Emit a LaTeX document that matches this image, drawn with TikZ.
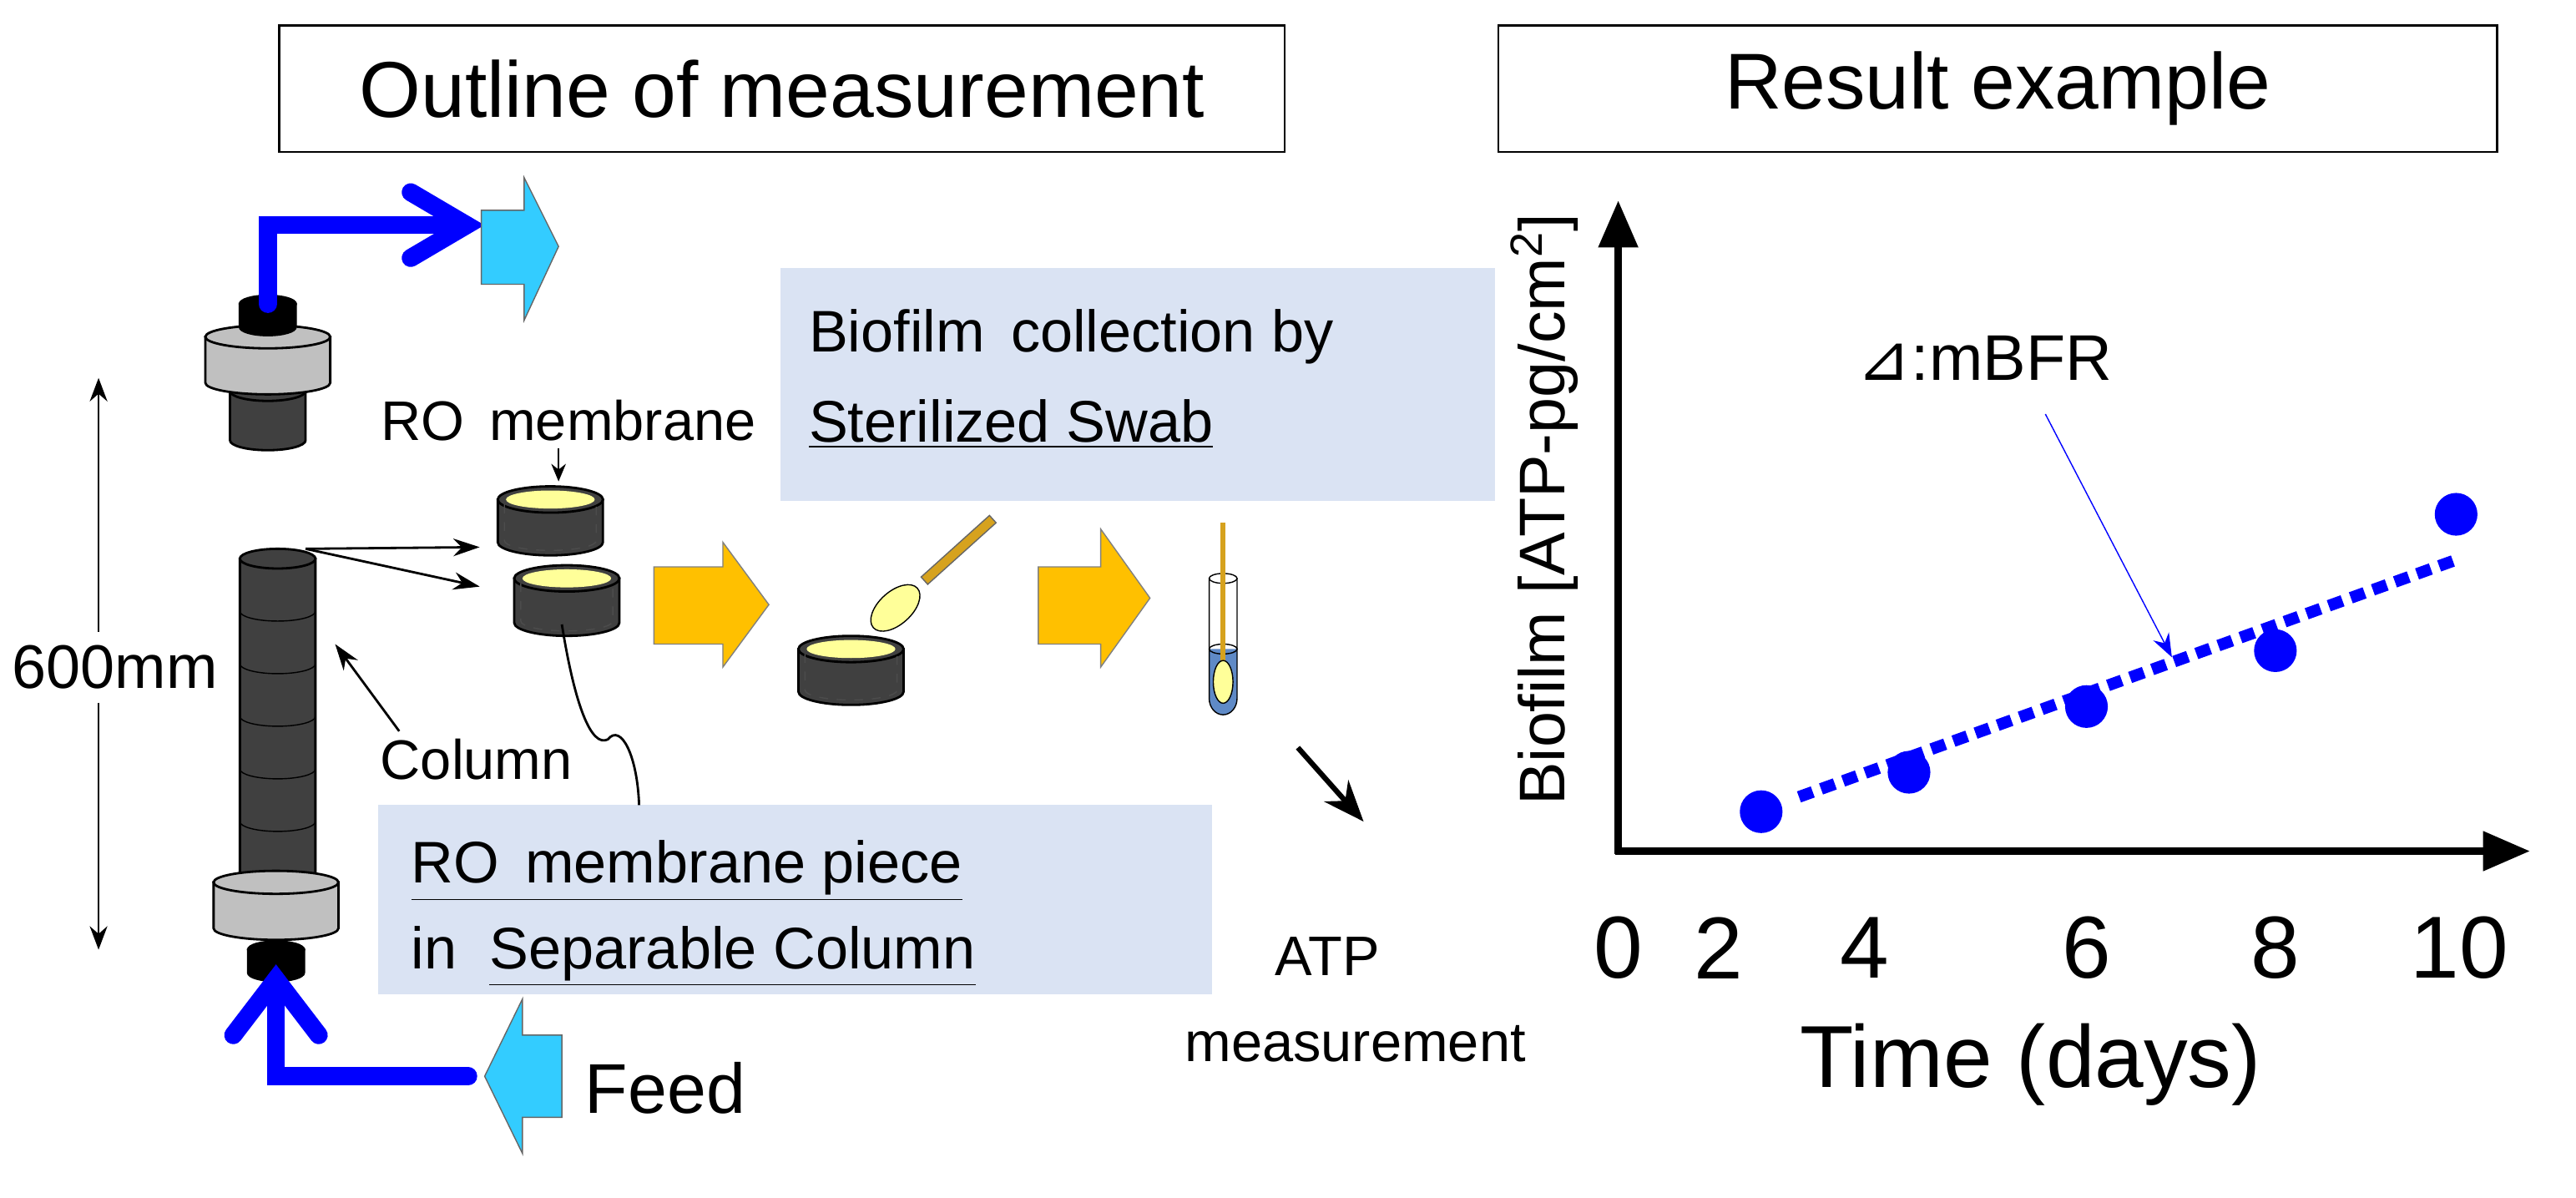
\documentclass[tikz,border=0pt]{standalone}
\usepackage{fontspec}
\setmainfont{Liberation Sans}
\newfontfamily\djv{DejaVu Sans}
\usetikzlibrary{arrows.meta}
\definecolor{cupdark}{HTML}{404040}
\definecolor{disc}{HTML}{C0C0C0}
\definecolor{cyanA}{HTML}{33CCFF}
\definecolor{orangeA}{HTML}{FFC000}
\definecolor{boxbg}{HTML}{DAE3F3}
\definecolor{memb}{HTML}{FFFF99}
\definecolor{pipe}{HTML}{0000FF}
\definecolor{liquid}{HTML}{5F8AC6}
\definecolor{stick}{HTML}{D6A21E}
\newcommand\mycyl[6]{%
 \filldraw[fill=#6,draw=black,thick] (#1-#3,#2) -- (#1-#3,#2+#5) arc[start angle=180,end angle=0,x radius=#3,y radius=#4] -- (#1+#3,#2) -- cycle;
 \filldraw[fill=#6,draw=black,thick] (#1,#2) ellipse[x radius=#3,y radius=#4];}
\newcommand\rocup[5]{%
 \mycyl{#1}{#2}{#3}{#4}{#5}{cupdark}
 \draw[black!70,dashed,thin] (#1-#3+4,#2+3) -- (#1-#3+4,#2+#5-1) arc[start angle=180,end angle=0,x radius=#3-4,y radius=#4-2] -- (#1+#3-4,#2+3);
 \fill[memb] (#1,#2) ellipse[x radius=#3-5,y radius=#4-2.5];}
\tikzset{
 title/.style={draw=black,thick,fill=white,minimum height=77*0.01968cm,font=\fontsize{27}{32}\selectfont},
 lab/.style={font=\fontsize{19}{22}\selectfont,inner sep=0},
 boxtxt/.style={font=\fontsize{20}{30}\selectfont,align=left,inner sep=0,anchor=west},
 big/.style={font=\fontsize{30}{34}\selectfont,inner sep=0},
 pipeline/.style={pipe,line width=11*0.01968cm,line cap=round,line join=miter},
 blockA/.style={fill=cyanA,draw=black!60,thin},
 blockO/.style={fill=orangeA,draw=black!50,thin},
 thinarr/.style={-{Stealth[length=9pt,width=6pt]},thick}
}
\begin{document}
\begin{tikzpicture}[x=0.01968cm,y=-0.01968cm]
\useasboundingbox (0,0) rectangle (1568,729);
% titles
\node[title,minimum width=612*0.01968cm] (t1) at (476,54) {Outline of measurement};
\node[title,minimum width=608*0.01968cm] (t2) at (1216,54) {Result example};
% text boxes
\fill[boxbg] (475,163) rectangle (910,305);
\node[boxtxt] (b1) at (492,205) {Biofilm\, collection by};
\node[boxtxt] (b2) at (492,258) {\underline{Sterilized Swab}};
\fill[boxbg] (230,490) rectangle (738,605);
\node[boxtxt] (b3) at (250,530) {\underline{RO\, membrane piece}};
\node[boxtxt] (b4) at (250,582) {in\; \underline{Separable Column}};
% top cap
\mycyl{163}{238}{23}{6}{30}{cupdark}
\mycyl{163}{205}{38}{7}{28}{disc}
\mycyl{163}{185}{17}{5}{14}{black}
% top pipe
\coordinate (p0) at (163,185);
\coordinate (p1) at (163,137);
\coordinate (p2) at (284,137);
\draw[pipeline] (p0) -- (p1) -- (p2);
\draw[pipeline] (250,117) -- (p2) -- (250,157);
\draw[blockA] (293,128) -- (319,128) -- (319,108) -- (340,150) -- (319,195) -- (319,173) -- (293,173) -- cycle;
% column
\mycyl{169}{340}{23}{6}{192}{cupdark}
\foreach \yy in {372,404,436,468,500}
 \draw[black,thin] (146,\yy) arc[start angle=180,end angle=0,x radius=23,y radius=6];
\mycyl{168}{537}{38}{7}{28}{disc}
\mycyl{168}{578}{17}{5}{14}{black}
% feed pipe
\coordinate (f0) at (285,655);
\coordinate (f1) at (168,655);
\coordinate (f2) at (168,596);
\draw[pipeline] (f0) -- (f1) -- (f2);
\draw[pipeline] (142,630) -- (f2) -- (194,630);
\draw[blockA] (342,630) -- (318,630) -- (318,608) -- (295,655) -- (318,702) -- (318,680) -- (342,680) -- cycle;
\node[font=\fontsize{24}{28}\selectfont,inner sep=0] (feed) at (405,662) {Feed};
% dimension
\node[lab,font=\fontsize{21}{24}\selectfont] (mm) at (70,406) {600mm};
\coordinate (d1) at (60,230);
\coordinate (d2) at (60,578);
\draw[-{Stealth[length=8pt,width=6pt]},thick] (mm.north -| d1) ++(0,-8) -- (d1);
\draw[-{Stealth[length=8pt,width=6pt]},thick] (mm.south -| d2) ++(0,8) -- (d2);
% cups
\rocup{335}{304}{32}{8}{26}
\rocup{345}{352}{32}{8}{27}
\node[lab] (rolab) at (346,256) {RO\, membrane};
\coordinate (rm) at (340,293);
\draw[-{Stealth[length=6pt,width=5pt]},thin] (rolab.south -| rm) ++(0,4) -- (rm);
\coordinate (sp) at (186,334);
\coordinate (c1) at (292,333);
\coordinate (c2) at (292,357);
\draw[thinarr] (sp) -- (c1);
\draw[thinarr] (sp) -- (c2);
\node[lab] (col) at (290,462) {Column};
\coordinate (ca) at (204,392);
\draw[thinarr] (243,445) -- (ca);
\coordinate (sq0) at (342,380);
\coordinate (sq1) at (389,490);
\draw[thick] (sq0) .. controls (350,430) and (360,455) .. (370,450) .. controls (378,440) and (388,460) .. (sq1);
% orange arrows
\draw[blockO] (398,345) -- (440,345) -- (440,330) -- (468,368) -- (440,406) -- (440,392) -- (398,392) -- cycle;
\draw[blockO] (632,345) -- (670,345) -- (670,322) -- (700,364) -- (670,406) -- (670,392) -- (632,392) -- cycle;
% cup with swab
\rocup{518}{395}{32}{8}{26}
\draw[draw=black!60,fill=stick,thin,rotate around={42:(582,336)}] (556,333) rectangle (612,339);
\filldraw[fill=memb,draw=black,thin,rotate around={42:(545,370)}] (545,370) ellipse[x radius=18,y radius=10];
% tube
\fill[liquid] (736,395) -- (736,425) arc[start angle=180,end angle=0,x radius=8.5,y radius=10] -- (753,395) -- cycle;
\draw[thin] (736,352) -- (736,425) arc[start angle=180,end angle=0,x radius=8.5,y radius=10] -- (753,352);
\draw[thin] (744.5,352) ellipse[x radius=8.5,y radius=3];
\draw[thin] (744.5,395) ellipse[x radius=8.5,y radius=3];
\fill[stick] (743,318) rectangle (746,402);
\filldraw[fill=memb,draw=black,thin] (744.5,415) ellipse[x radius=6,y radius=13];
% black arrow
\coordinate (ba0) at (790,455);
\coordinate (ba1) at (830,500);
\draw[-{Stealth[length=14pt,width=11pt]},line width=1.8pt] (ba0) -- (ba1);
\node[lab] (atp) at (808,582) {ATP};
\node[lab] (atpm) at (825,635) {measurement};
% plot
\coordinate (o) at (985,518);
\coordinate (ytop) at (985,122);
\coordinate (xend) at (1540,518);
\draw[-{Triangle[length=16pt,width=13pt]},line width=2.6pt] (o) ++(0,2) -- (ytop);
\draw[-{Triangle[length=16pt,width=13pt]},line width=2.6pt] (o) ++(-2,0) -- (xend);
\node[font=\fontsize{22}{26}\selectfont,rotate=90,inner sep=0] (ylab) at (940,310) {Biofilm [ATP-pg/cm\textsuperscript{2}]};
\foreach \xx/\tt in {985/0,1046/2,1135/4,1270/6,1385/8,1497/10}
 \node[big] at (\xx,577) {\tt};
\node[big] (tl) at (1236,648) {Time (days)};
\draw[pipe,line width=4pt,dash pattern=on 5pt off 3pt] (1095,485) -- (1497,340);
\foreach \xx/\yy [count=\i] in {1072/494,1162/470,1270/430,1385/396,1495/313}
 \fill[pipe] (\xx,\yy) circle[radius=13] coordinate (dot\i);
\node[font=\fontsize{22}{26}\selectfont,inner sep=0] (mb) at (1208,218) {{\djv ⊿}:mBFR};
\coordinate (mbt) at (1322,400);
\draw[pipe,-{Stealth[length=8pt,width=6pt]},thin] (1245,252) -- (mbt);
\end{tikzpicture}
\end{document}
